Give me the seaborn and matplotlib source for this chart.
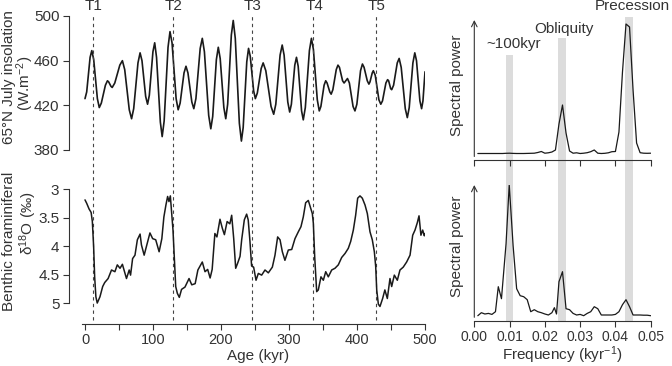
import matplotlib.pyplot as plt
import seaborn as sns
from matplotlib import transforms
from matplotlib.patches import Rectangle
from matplotlib.ticker import FuncFormatter, MultipleLocator

# 65N July insolation (W/m2): extrema plus two points per swing
ins_age = [0, 2.5, 7.5, 10, 12.8, 18.2, 21, 24, 30, 33, 34.8, 38.2,
           40, 43.8, 51.2, 55, 58.4, 65.1, 68.5, 71.6, 77.9, 81, 83.8, 89.2,
           92, 94.6, 99.9, 102.5, 105.2, 110.8, 113.5, 116.4, 122.1, 125, 128, 134,
           137, 139.9, 145.6, 148.5, 151.4, 157.1, 160, 163.1, 169.4, 172.5, 175.6, 181.9,
           185, 187.8, 193.2, 196, 198.8, 204.2, 207, 209.8, 215.2, 218, 221, 227,
           230, 232.6, 237.9, 240.5, 243, 248, 250.5, 253.4, 259.1, 262, 265.9, 273.6,
           277.5, 280.6, 286.9, 290, 292.8, 298.2, 301, 303.5, 308.5, 311, 313.5, 318.5,
           321, 324, 330, 333, 335.9, 341.6, 344.5, 346.9, 351.6, 354, 356, 360,
           362, 364.5, 369.5, 372, 374.2, 378.8, 381, 382.2, 384.8, 386, 388.8, 394.2,
           397, 399.8, 405.2, 408, 410.4, 415.1, 417.5, 419.1, 422.4, 424, 426.8, 432.2,
           435, 437.5, 442.5, 445, 446.5, 449.5, 451, 453.8, 459.2, 462, 465, 471,
           474, 476.8, 482.2, 485, 487.5, 492.5, 495, 497, 500]
ins_val = [426, 432, 463, 469, 461, 426, 418, 422, 438, 442, 441, 437,
           436, 440, 456, 460, 452, 416, 408, 417, 458, 467, 460, 428,
           421, 429, 468, 476, 463, 405, 392, 406, 472, 486, 476, 426,
           416, 422, 449, 455, 449, 423, 417, 426, 471, 480, 468, 411,
           399, 410, 461, 472, 462, 418, 408, 421, 483, 496, 480, 404,
           388, 400, 459, 471, 464, 433, 426, 431, 453, 458, 451, 419,
           412, 421, 465, 474, 465, 423, 414, 421, 456, 463, 455, 415,
           407, 418, 469, 480, 470, 425, 415, 419, 438, 442, 440, 432,
           430, 434, 452, 456, 454, 442, 440, 441, 443, 444, 440, 419,
           415, 421, 451, 457, 454, 442, 439, 441, 449, 451, 447, 425,
           421, 424, 440, 443, 442, 435, 434, 438, 458, 462, 454, 417,
           409, 418, 458, 467, 460, 424, 417, 424, 450]

# benthic d18O (permil)
d18_age = [0, 2.5, 6, 9, 10.8, 12.7, 14.2, 16, 18, 22, 26, 29, 34, 39, 44, 47.5,
           51.5, 55, 59, 61, 65, 67, 70, 73.5, 77, 81, 83, 87, 91, 95.5, 99.5, 104,
           109, 113, 116, 119, 121.5, 123.5, 125.5, 127.5, 129.4, 131.3, 133.4, 135.8,
           138.7, 142, 147, 153, 157, 162, 166, 172.5, 176.5, 180.4, 184, 187, 191,
           194, 198.5, 202, 205, 209, 213, 215.7, 218.7, 221.6, 224.5, 228, 230.4,
           234.3, 237.7, 240, 242.6, 245, 248, 251.5, 254.9, 259.8, 264.7, 269.6,
           275.5, 279.4, 283.3, 286.8, 290.2, 294, 299, 304, 308.8, 313.7, 317.6, 321,
           324.5, 328.4, 331.9, 334.3, 335.8, 337.8, 340.7, 343.1, 347, 350.5, 354,
           357.8, 362.8, 367.6, 372.5, 377.5, 382.4, 387.2, 390.7, 394.6, 398, 401,
           404.4, 407.8, 411.8, 415.2, 419.1, 422.5, 425.5, 427.5, 429, 431.4, 433.8,
           437.7, 441, 444.6, 448.5, 451, 454.9, 459.3, 463.2, 468, 473, 478, 481.9,
           485.3, 488.7, 491.2, 494, 496.6, 499, 500]
d18_val = [3.19, 3.25, 3.35, 3.41, 3.57, 4.01, 4.54, 4.89, 5.0, 4.89, 4.71, 4.64, 4.57, 4.42, 4.45, 4.33,
           4.39, 4.32, 4.49, 4.57, 4.42, 4.51, 4.22, 4.16, 3.89, 3.79, 3.98, 4.16, 3.98, 3.77, 3.87, 3.89,
           4.1, 3.87, 3.49, 3.28, 3.13, 3.22, 3.12, 3.43, 3.72, 4.19, 4.71, 4.83,
           4.9, 4.76, 4.72, 4.57, 4.68, 4.66, 4.42, 4.28, 4.45, 4.41, 4.56, 4.41, 3.78,
           3.84, 3.53, 3.69, 3.8, 3.57, 3.61, 3.46, 3.87, 4.39, 4.3, 4.18, 3.89,
           3.54, 3.44, 3.54, 3.92, 4.35, 4.37, 4.6, 4.48, 4.51, 4.42, 4.47,
           4.37, 4.16, 3.84, 3.89, 4.1, 4.25, 4.07, 4.06, 3.87, 3.75, 3.66, 3.49,
           3.24, 3.2, 3.34, 3.43, 3.6, 4.19, 4.8, 4.77, 4.54, 4.6, 4.45,
           4.54, 4.42, 4.39, 4.33, 4.2, 4.13, 4.04, 3.92, 3.72, 3.46, 3.16,
           3.12, 3.16, 3.28, 3.43, 3.75, 3.89, 4.1, 4.36, 4.77, 5.02, 5.06,
           4.92, 4.77, 4.92, 4.57, 4.71, 4.51, 4.6, 4.42, 4.37, 4.28, 4.16, 3.81,
           3.72, 3.59, 3.47, 3.81, 3.72, 3.82, 3.78]

# terminations
term_names = ['T1', 'T2', 'T3', 'T4', 'T5']
term_age = [12, 129, 245, 336, 428]

# spectra (arbitrary units)
ins_freq = [0.001, 0.002, 0.003, 0.004, 0.005, 0.006, 0.007, 0.008, 0.009, 0.010,
            0.011, 0.012, 0.013, 0.014, 0.015, 0.016, 0.017, 0.018, 0.019, 0.020,
            0.021, 0.022, 0.023, 0.024, 0.025, 0.026, 0.027, 0.028, 0.029, 0.030,
            0.031, 0.032, 0.033, 0.034, 0.035, 0.036, 0.037, 0.038, 0.039, 0.040,
            0.041, 0.042, 0.043, 0.044, 0.045, 0.046, 0.047, 0.048, 0.049, 0.050]
ins_power = [0.5, 0.5, 0.5, 0.5, 0.5, 0.5, 0.5, 0.5, 0.7, 0.8,
             0.6, 0.5, 0.5, 0.5, 0.6, 0.7, 0.8, 1.5, 2.5, 0.8,
             1.2, 2.0, 4.0, 30, 49, 21, 3, 0.8, 1.2, 0.5,
             0.8, 1.3, 2.3, 4, 0.8, 0.5, 0.7, 1.2, 2.3, 2.5,
             22, 82, 130, 127, 64, 11, 1.3, 0.8, 0.7, 0.8]

d18_freq = [0.001, 0.002, 0.003, 0.004, 0.005, 0.006, 0.0068, 0.0077, 0.009, 0.0099,
            0.011, 0.012, 0.013, 0.014, 0.015, 0.016, 0.017, 0.018, 0.019, 0.020,
            0.021, 0.022, 0.0227, 0.0233, 0.024, 0.025, 0.026, 0.027, 0.028, 0.029,
            0.030, 0.031, 0.032, 0.033, 0.034, 0.035, 0.036, 0.037, 0.038, 0.039,
            0.040, 0.041, 0.042, 0.043, 0.044, 0.045, 0.046, 0.047, 0.048, 0.049, 0.050]
d18_power = [0, 3, 1.7, 2.3, 1.3, 4, 29, 17, 72, 131,
             70, 27, 20, 19, 16, 4, 6, 4, 3, 1.7,
             0.7, 3, 8, 1.7, 34, 44, 7, 6, 2.3, 0.7,
             1.3, 0, 2.3, 4, 9, 7, 0.7, 0.7, 0.7, 0.7,
             1.3, 4, 11, 16, 9, 0.7, 0.7, 0.7, 0.5, 0.5, 0]

# orbital bands
band_names = ['~100kyr', 'Obliquity', 'Precession']
band_lo = [0.0089, 0.0236, 0.0427]
band_hi = [0.0111, 0.0259, 0.0450]

sns.set_style('ticks')
ink = '#333333'
plt.rcParams['font.family'] = ['Liberation Sans', 'DejaVu Sans']
plt.rcParams.update({
    'mathtext.fontset': 'custom', 'mathtext.rm': 'Liberation Sans',
    'mathtext.it': 'Liberation Sans:italic',
    'axes.edgecolor': ink, 'axes.linewidth': 0.8,
    'xtick.color': ink, 'ytick.color': ink, 'text.color': ink, 'axes.labelcolor': ink,
    'xtick.major.width': 0.8, 'ytick.major.width': 0.8,
    'xtick.minor.width': 0.8, 'xtick.major.size': 4, 'ytick.major.size': 4,
    'xtick.minor.size': 4, 'xtick.labelsize': 10.5, 'ytick.labelsize': 11,
    'xtick.major.pad': 2.5, 'ytick.major.pad': 3,
})

W, H = 672, 366
fig = plt.figure(figsize=(W / 100, H / 100), dpi=100)
ax1 = fig.add_axes([81.6 / W, 1 - 150 / H, 343.4 / W, 134 / H])
ax2 = fig.add_axes([81.6 / W, 1 - 311.6 / H, 343.4 / W, 125.4 / H])
ax3 = fig.add_axes([474.3 / W, 1 - 160 / H, 176.4 / W, 140 / H])
ax4 = fig.add_axes([474.3 / W, 1 - 320.7 / H, 176.4 / W, 135.7 / H])
for ax in (ax1, ax2, ax3, ax4):
    ax.set_facecolor('none')

# insolation
sns.lineplot(x=ins_age, y=ins_val, ax=ax1, color='#1a1a1a', lw=1.2,
             estimator=None, sort=False)
ax1.set_xlim(-5, 500)
ax1.set_ylim(380, 500)
ax1.set_yticks([380, 420, 460, 500])
ax1.set_xticks([])
sns.despine(ax=ax1, bottom=True, offset={'left': 9})

# d18O
sns.lineplot(x=d18_age, y=d18_val, ax=ax2, color='#1a1a1a', lw=1.1,
             estimator=None, sort=False)
ax2.set_xlim(-5, 500)
ax2.set_ylim(5.15, 2.95)
ax2.set_yticks([3, 3.5, 4, 4.5, 5])
ax2.yaxis.set_major_formatter(FuncFormatter(lambda v, p: f'{v:g}'))
ax2.set_xticks([0, 100, 200, 300, 400, 500])
ax2.xaxis.set_minor_locator(MultipleLocator(50))
sns.despine(ax=ax2, offset={'left': 9, 'bottom': 9})
ax2.spines['left'].set_bounds(3, 5)
ax2.set_xlabel('')
ax2.set_ylabel('')

for name, t in zip(term_names, term_age):
    ax1.axvline(t, ymin=-1.27, ymax=1.0, clip_on=False, color='#444444',
                lw=0.8, ls=(0, (3, 3)))
    ax1.text(t + 1, 1.025, name, transform=ax1.get_xaxis_transform(),
             ha='center', va='bottom', fontsize=11)

fig.text(9 / W, 1 - 77 / H, '65°N July insolation', rotation=90,
         ha='center', va='center', fontsize=11)
fig.text(25.5 / W, 1 - 83 / H, '(W.m$^{-2}$)', rotation=90,
         ha='center', va='center', fontsize=11)
fig.text(9 / W, 1 - 241 / H, 'Benthic foraminiferal', rotation=90,
         ha='center', va='center', fontsize=11)
fig.text(28 / W, 1 - 223 / H, 'δ$^{18}$O (‰)', rotation=90,
         ha='center', va='center', fontsize=11)
fig.text(258 / W, 1 - 356 / H, 'Age (kyr)', ha='center', va='center',
         fontsize=11)

# spectra
sns.lineplot(x=ins_freq, y=ins_power, ax=ax3, color='#1a1a1a', lw=0.9,
             estimator=None, sort=False)
sns.lineplot(x=d18_freq, y=d18_power, ax=ax4, color='#1a1a1a', lw=0.9,
             estimator=None, sort=False)
ax3.set_ylim(-6, 134)
ax4.set_ylim(-5, 130.7)
for ax in (ax3, ax4):
    ax.set_xlim(0, 0.05)
    ax.set_xticks([0, 0.01, 0.02, 0.03, 0.04, 0.05])
    ax.set_yticks([])
    ax.tick_params(axis='x', labelsize=10)
    sns.despine(ax=ax, left=True)
    ax.annotate('', xy=(0, 1), xytext=(0, 0.025), xycoords='axes fraction',
                arrowprops=dict(arrowstyle='->', lw=0.8, color=ink,
                                shrinkA=0, shrinkB=0, mutation_scale=10))
ax3.tick_params(labelbottom=False)
ax4.xaxis.set_major_formatter(FuncFormatter(lambda v, p: f'{v:.2f}'))
fig.text(562.5 / W, 1 - 355 / H, 'Frequency (kyr$^{-1}$)', ha='center',
         va='center', fontsize=11)
fig.text(456.5 / W, 1 - 85 / H, 'Spectral power', rotation=90,
         ha='center', va='center', fontsize=11)
fig.text(456.5 / W, 1 - 246 / H, 'Spectral power', rotation=90,
         ha='center', va='center', fontsize=11)

# grey bands running through both spectra
trans = transforms.blended_transform_factory(ax4.transData, fig.transFigure)
band_top = [55, 38, 17]
label_x = [0.01125, 0.0254, 0.0447]
label_y = [44, 29, 6]
for name, lo, hi, top, lx, ly in zip(band_names, band_lo, band_hi, band_top, label_x, label_y):
    fig.add_artist(Rectangle((lo, 1 - 321 / H), hi - lo, (321 - top) / H,
                             transform=trans, color='#dcdcdc', lw=0, zorder=-1))
    fig.text(lx, 1 - ly / H, name, transform=trans, ha='center', va='center',
             fontsize=11)

fig.savefig('out.png', dpi=100)
